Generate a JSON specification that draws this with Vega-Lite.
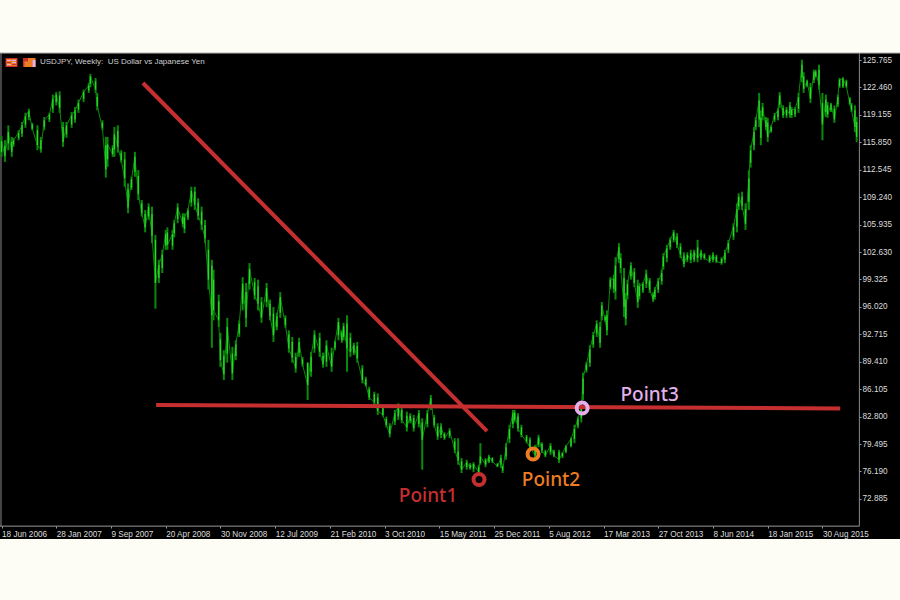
{"$schema":"https://vega.github.io/schema/vega-lite/v6.json","width":900,"height":600,"padding":0,"autosize":{"type":"none"},"background":"#fdfdf6","view":{"stroke":null,"fill":"#fdfdf6"},
"config":{"axis":{"grid":false,"title":null}},
"datasets":{"candles":[
{"w":0,"h":116.6,"l":114.1,"o":114.7,"c":116.0},{"w":2,"h":116.1,"l":113.5,"o":115.4,"c":114.2},{"w":4,"h":117.9,"l":114.9,"o":115.7,"c":117.1},{"w":6,"h":116.5,"l":114.1,"o":115.9,"c":114.7},{"w":7,"h":116.4,"l":115.3,"o":115.6,"c":116.1},{"w":10,"h":117.3,"l":116.1,"o":116.4,"c":117.0},{"w":12,"h":118.3,"l":116.5,"o":116.9,"c":117.9},{"w":14,"h":119.4,"l":117.6,"o":118.0,"c":119.0},{"w":16,"h":119.9,"l":118.5,"o":118.9,"c":119.6},{"w":18,"h":118.2,"l":117.3,"o":118.0,"c":117.5},{"w":21,"h":117.9,"l":114.9,"o":117.3,"c":115.5},{"w":23,"h":116.5,"l":114.6,"o":116.1,"c":115.0},{"w":25,"h":118.9,"l":117.3,"o":117.7,"c":118.5},{"w":28,"h":119.4,"l":118.3,"o":118.6,"c":119.2},{"w":30,"h":121.6,"l":119.4,"o":119.9,"c":121.1},{"w":32,"h":121.9,"l":120.3,"o":120.7,"c":121.6},{"w":34,"h":122.0,"l":119.4,"o":121.5,"c":120.0},{"w":36,"h":118.3,"l":115.3,"o":117.7,"c":115.9},{"w":38,"h":118.3,"l":116.4,"o":116.8,"c":117.9},{"w":41,"h":119.5,"l":117.6,"o":118.0,"c":119.1},{"w":43,"h":120.1,"l":118.2,"o":118.6,"c":119.7},{"w":45,"h":121.0,"l":119.4,"o":119.8,"c":120.6},{"w":48,"h":122.2,"l":120.7,"o":121.1,"c":121.9},{"w":51,"h":123.0,"l":121.8,"o":122.1,"c":122.7},{"w":52,"h":124.1,"l":122.5,"o":122.9,"c":123.8},{"w":55,"h":123.6,"l":121.8,"o":123.2,"c":122.2},{"w":56,"h":121.8,"l":119.7,"o":121.3,"c":120.2},{"w":59,"h":118.5,"l":117.3,"o":118.2,"c":117.6},{"w":61,"h":116.5,"l":111.6,"o":115.5,"c":112.6},{"w":62,"h":116.5,"l":112.9,"o":113.8,"c":115.6},{"w":65,"h":115.5,"l":114.1,"o":115.2,"c":114.4},{"w":66,"h":117.7,"l":114.1,"o":115.0,"c":116.8},{"w":68,"h":117.9,"l":114.6,"o":117.2,"c":115.3},{"w":70,"h":114.9,"l":113.4,"o":114.6,"c":113.7},{"w":72,"h":114.7,"l":110.5,"o":113.8,"c":111.5},{"w":74,"h":110.9,"l":107.3,"o":110.2,"c":108.0},{"w":76,"h":111.7,"l":110.1,"o":110.4,"c":111.4},{"w":78,"h":114.7,"l":111.7,"o":112.3,"c":114.1},{"w":80,"h":112.5,"l":108.9,"o":111.8,"c":109.6},{"w":82,"h":108.9,"l":106.9,"o":108.5,"c":107.3},{"w":84,"h":107.7,"l":105.0,"o":107.2,"c":105.6},{"w":86,"h":108.5,"l":106.5,"o":106.9,"c":108.1},{"w":88,"h":108.1,"l":103.7,"o":107.2,"c":104.6},{"w":90,"h":104.7,"l":95.8,"o":104.1,"c":98.9},{"w":92,"h":101.7,"l":98.9,"o":99.5,"c":101.1},{"w":94,"h":102.9,"l":100.1,"o":100.7,"c":102.3},{"w":96,"h":105.3,"l":102.9,"o":103.4,"c":104.8},{"w":97,"h":105.6,"l":102.9,"o":105.0,"c":103.5},{"w":100,"h":105.3,"l":102.9,"o":103.4,"c":104.8},{"w":101,"h":106.5,"l":104.4,"o":104.9,"c":106.1},{"w":103,"h":108.5,"l":106.1,"o":106.6,"c":108.0},{"w":106,"h":107.3,"l":105.6,"o":106.9,"c":106.0},{"w":107,"h":107.3,"l":104.9,"o":105.4,"c":106.8},{"w":109,"h":107.9,"l":106.5,"o":106.8,"c":107.6},{"w":111,"h":110.5,"l":108.1,"o":108.6,"c":110.0},{"w":113,"h":110.5,"l":107.7,"o":109.9,"c":108.3},{"w":115,"h":109.1,"l":106.5,"o":108.6,"c":107.0},{"w":117,"h":108.1,"l":105.3,"o":107.5,"c":105.9},{"w":119,"h":106.5,"l":103.7,"o":105.9,"c":104.3},{"w":121,"h":104.1,"l":98.1,"o":102.9,"c":99.3},{"w":123,"h":101.7,"l":91.1,"o":101.0,"c":95.0},{"w":124,"h":100.5,"l":94.4,"o":99.3,"c":95.6},{"w":127,"h":97.5,"l":93.6,"o":96.7,"c":94.4},{"w":128,"h":92.9,"l":88.8,"o":92.1,"c":89.6},{"w":130,"h":90.8,"l":87.2,"o":90.1,"c":87.9},{"w":132,"h":94.7,"l":89.3,"o":90.4,"c":93.6},{"w":135,"h":91.2,"l":87.2,"o":90.4,"c":88.0},{"w":137,"h":92.0,"l":89.6,"o":90.1,"c":91.5},{"w":139,"h":94.4,"l":92.4,"o":92.8,"c":94.0},{"w":141,"h":99.6,"l":95.6,"o":96.4,"c":98.8},{"w":143,"h":98.9,"l":93.6,"o":97.8,"c":94.7},{"w":145,"h":101.3,"l":98.1,"o":98.8,"c":100.6},{"w":148,"h":99.5,"l":96.9,"o":99.0,"c":97.4},{"w":150,"h":99.3,"l":95.6,"o":98.5,"c":96.4},{"w":152,"h":97.2,"l":94.1,"o":96.6,"c":94.7},{"w":155,"h":98.9,"l":96.0,"o":96.6,"c":98.3},{"w":157,"h":96.9,"l":94.4,"o":96.4,"c":94.9},{"w":159,"h":96.0,"l":91.8,"o":95.2,"c":92.6},{"w":161,"h":95.3,"l":93.2,"o":93.6,"c":94.9},{"w":163,"h":97.8,"l":94.7,"o":95.3,"c":97.2},{"w":166,"h":95.0,"l":93.5,"o":94.7,"c":93.8},{"w":168,"h":93.2,"l":90.5,"o":92.7,"c":91.0},{"w":170,"h":92.4,"l":89.3,"o":91.8,"c":89.9},{"w":172,"h":90.5,"l":88.1,"o":90.0,"c":88.6},{"w":174,"h":92.3,"l":90.0,"o":90.5,"c":91.8},{"w":176,"h":90.0,"l":88.8,"o":89.7,"c":89.1},{"w":179,"h":89.3,"l":84.8,"o":89.3,"c":86.6},{"w":181,"h":90.6,"l":87.6,"o":88.2,"c":90.0},{"w":183,"h":93.2,"l":90.5,"o":91.0,"c":92.7},{"w":186,"h":92.9,"l":90.0,"o":92.3,"c":90.6},{"w":188,"h":90.5,"l":88.7,"o":90.1,"c":89.1},{"w":190,"h":92.0,"l":88.8,"o":89.4,"c":91.4},{"w":193,"h":91.1,"l":88.2,"o":90.5,"c":88.8},{"w":195,"h":92.0,"l":90.8,"o":91.1,"c":91.8},{"w":197,"h":94.7,"l":92.0,"o":92.6,"c":94.2},{"w":199,"h":93.2,"l":91.7,"o":92.9,"c":92.0},{"w":200,"h":94.1,"l":92.0,"o":92.4,"c":93.7},{"w":202,"h":95.0,"l":88.2,"o":94.0,"c":91.0},{"w":204,"h":92.9,"l":90.0,"o":92.3,"c":90.6},{"w":206,"h":91.7,"l":90.2,"o":90.5,"c":91.4},{"w":208,"h":91.8,"l":89.3,"o":91.3,"c":89.8},{"w":211,"h":89.0,"l":86.8,"o":88.6,"c":87.2},{"w":213,"h":87.6,"l":86.4,"o":87.3,"c":86.6},{"w":215,"h":86.4,"l":84.8,"o":86.1,"c":85.1},{"w":218,"h":85.8,"l":84.2,"o":85.5,"c":84.5},{"w":220,"h":85.6,"l":83.0,"o":85.1,"c":83.5},{"w":223,"h":84.0,"l":82.8,"o":83.8,"c":83.0},{"w":225,"h":82.8,"l":81.5,"o":82.5,"c":81.8},{"w":227,"h":82.0,"l":80.3,"o":81.7,"c":80.7},{"w":230,"h":83.6,"l":81.8,"o":82.2,"c":83.2},{"w":232,"h":84.4,"l":82.4,"o":82.8,"c":84.0},{"w":234,"h":84.0,"l":82.0,"o":83.6,"c":82.4},{"w":237,"h":83.4,"l":81.0,"o":82.9,"c":81.5},{"w":239,"h":83.2,"l":82.0,"o":82.3,"c":82.9},{"w":241,"h":83.0,"l":81.0,"o":82.6,"c":81.4},{"w":244,"h":83.6,"l":81.5,"o":81.9,"c":83.2},{"w":246,"h":82.6,"l":76.4,"o":82.1,"c":80.0},{"w":249,"h":83.6,"l":81.5,"o":81.9,"c":83.2},{"w":251,"h":85.4,"l":83.6,"o":84.0,"c":85.0},{"w":253,"h":83.0,"l":81.5,"o":82.7,"c":81.8},{"w":255,"h":82.0,"l":80.0,"o":81.6,"c":80.4},{"w":257,"h":82.0,"l":80.2,"o":80.6,"c":81.6},{"w":259,"h":80.9,"l":80.0,"o":80.7,"c":80.2},{"w":262,"h":81.4,"l":80.2,"o":80.5,"c":81.1},{"w":265,"h":80.2,"l":78.4,"o":79.8,"c":78.8},{"w":267,"h":80.2,"l":77.0,"o":78.6,"c":77.5},{"w":269,"h":77.8,"l":76.0,"o":77.4,"c":76.4},{"w":272,"h":77.6,"l":76.4,"o":76.7,"c":77.3},{"w":274,"h":77.2,"l":76.4,"o":77.0,"c":76.6},{"w":276,"h":77.3,"l":76.1,"o":76.5,"c":77.1},{"w":279,"h":77.0,"l":75.8,"o":76.7,"c":76.1},{"w":280,"h":79.6,"l":77.0,"o":77.2,"c":78.0},{"w":283,"h":77.8,"l":76.7,"o":77.6,"c":77.0},{"w":285,"h":78.2,"l":77.2,"o":77.4,"c":78.0},{"w":287,"h":77.9,"l":77.2,"o":77.8,"c":77.4},{"w":290,"h":77.2,"l":76.7,"o":77.1,"c":76.8},{"w":292,"h":78.2,"l":76.6,"o":77.0,"c":77.8},{"w":293,"h":77.0,"l":76.0,"o":76.8,"c":76.3},{"w":295,"h":79.6,"l":77.6,"o":78.0,"c":79.1},{"w":297,"h":81.8,"l":79.6,"o":80.1,"c":81.3},{"w":299,"h":83.6,"l":81.4,"o":81.9,"c":83.2},{"w":300,"h":83.6,"l":82.1,"o":82.4,"c":83.3},{"w":302,"h":83.2,"l":81.0,"o":82.8,"c":81.4},{"w":304,"h":81.8,"l":80.3,"o":81.5,"c":80.6},{"w":307,"h":80.6,"l":79.6,"o":80.4,"c":79.8},{"w":309,"h":80.3,"l":78.8,"o":80.0,"c":79.1},{"w":312,"h":79.4,"l":77.8,"o":79.1,"c":78.1},{"w":314,"h":80.6,"l":79.1,"o":79.4,"c":80.3},{"w":316,"h":79.7,"l":78.4,"o":79.5,"c":78.7},{"w":318,"h":78.8,"l":77.9,"o":78.6,"c":78.1},{"w":321,"h":79.6,"l":78.2,"o":78.5,"c":79.3},{"w":323,"h":78.8,"l":77.9,"o":78.6,"c":78.1},{"w":326,"h":78.8,"l":77.2,"o":78.5,"c":77.6},{"w":328,"h":78.5,"l":77.8,"o":78.0,"c":78.4},{"w":330,"h":79.4,"l":78.4,"o":78.6,"c":79.2},{"w":333,"h":80.3,"l":79.1,"o":79.3,"c":80.1},{"w":335,"h":81.8,"l":79.6,"o":80.1,"c":81.3},{"w":337,"h":82.8,"l":81.4,"o":81.7,"c":82.5},{"w":339,"h":84.2,"l":82.1,"o":82.6,"c":83.8},{"w":340,"h":88.1,"l":84.8,"o":85.5,"c":87.4},{"w":342,"h":89.4,"l":88.1,"o":88.4,"c":89.1},{"w":344,"h":91.4,"l":88.8,"o":89.3,"c":90.9},{"w":346,"h":93.0,"l":91.1,"o":91.5,"c":92.6},{"w":348,"h":94.4,"l":92.4,"o":92.8,"c":94.0},{"w":350,"h":94.2,"l":91.1,"o":93.6,"c":91.7},{"w":351,"h":96.6,"l":94.4,"o":94.9,"c":96.2},{"w":353,"h":95.0,"l":94.2,"o":94.8,"c":94.4},{"w":354,"h":95.6,"l":92.6,"o":95.0,"c":93.2},{"w":356,"h":99.6,"l":98.1,"o":98.4,"c":99.3},{"w":358,"h":99.9,"l":97.7,"o":98.2,"c":99.4},{"w":359,"h":102.0,"l":96.9,"o":97.9,"c":101.0},{"w":361,"h":103.7,"l":101.3,"o":101.8,"c":103.2},{"w":362,"h":102.5,"l":100.1,"o":101.9,"c":100.7},{"w":364,"h":100.7,"l":94.8,"o":99.5,"c":96.0},{"w":365,"h":97.7,"l":93.8,"o":96.9,"c":94.6},{"w":366,"h":99.3,"l":96.9,"o":97.4,"c":98.8},{"w":368,"h":101.4,"l":99.3,"o":99.7,"c":101.0},{"w":370,"h":100.7,"l":98.4,"o":100.2,"c":98.9},{"w":372,"h":99.3,"l":95.9,"o":98.6,"c":96.6},{"w":373,"h":98.9,"l":96.9,"o":97.3,"c":98.5},{"w":375,"h":99.0,"l":97.7,"o":98.0,"c":98.8},{"w":377,"h":100.5,"l":98.3,"o":98.8,"c":100.0},{"w":379,"h":99.5,"l":97.7,"o":99.2,"c":98.1},{"w":381,"h":97.8,"l":96.6,"o":97.5,"c":96.9},{"w":382,"h":98.4,"l":96.9,"o":97.2,"c":98.1},{"w":384,"h":99.5,"l":97.7,"o":98.1,"c":99.1},{"w":386,"h":100.5,"l":98.7,"o":99.1,"c":100.1},{"w":387,"h":102.5,"l":100.5,"o":100.9,"c":102.1},{"w":389,"h":103.5,"l":101.4,"o":101.9,"c":103.1},{"w":391,"h":104.4,"l":102.9,"o":103.2,"c":104.1},{"w":393,"h":105.3,"l":103.8,"o":104.1,"c":105.0},{"w":395,"h":104.9,"l":103.1,"o":104.5,"c":103.5},{"w":397,"h":103.7,"l":101.9,"o":103.3,"c":102.3},{"w":399,"h":102.6,"l":100.8,"o":102.2,"c":101.2},{"w":401,"h":102.6,"l":101.4,"o":101.7,"c":102.3},{"w":403,"h":102.9,"l":101.3,"o":102.5,"c":101.7},{"w":405,"h":102.9,"l":101.4,"o":101.7,"c":102.6},{"w":407,"h":104.1,"l":101.4,"o":103.2,"c":101.9},{"w":409,"h":102.9,"l":101.7,"o":102.0,"c":102.6},{"w":411,"h":102.5,"l":101.7,"o":102.3,"c":101.9},{"w":414,"h":102.3,"l":101.3,"o":102.1,"c":101.5},{"w":416,"h":102.6,"l":101.4,"o":101.7,"c":102.3},{"w":418,"h":102.3,"l":101.3,"o":102.1,"c":101.5},{"w":421,"h":102.0,"l":101.1,"o":101.8,"c":101.3},{"w":423,"h":102.9,"l":101.3,"o":101.7,"c":102.5},{"w":425,"h":104.1,"l":102.5,"o":102.9,"c":103.7},{"w":428,"h":106.1,"l":104.1,"o":104.5,"c":105.7},{"w":430,"h":108.5,"l":105.0,"o":105.7,"c":107.8},{"w":431,"h":109.7,"l":107.7,"o":108.1,"c":109.3},{"w":433,"h":109.9,"l":107.7,"o":109.3,"c":108.2},{"w":435,"h":108.5,"l":105.3,"o":107.8,"c":106.0},{"w":437,"h":112.5,"l":107.7,"o":108.7,"c":111.5},{"w":438,"h":115.5,"l":112.8,"o":113.4,"c":114.9},{"w":440,"h":117.7,"l":114.9,"o":115.5,"c":117.1},{"w":441,"h":118.9,"l":117.3,"o":117.7,"c":118.5},{"w":443,"h":121.8,"l":117.7,"o":118.6,"c":120.9},{"w":444,"h":119.7,"l":115.5,"o":118.8,"c":116.4},{"w":445,"h":120.6,"l":118.5,"o":119.0,"c":120.1},{"w":447,"h":118.9,"l":117.3,"o":118.5,"c":117.7},{"w":448,"h":118.8,"l":115.9,"o":118.2,"c":116.5},{"w":450,"h":117.9,"l":117.0,"o":117.2,"c":117.7},{"w":452,"h":119.4,"l":118.3,"o":118.6,"c":119.1},{"w":454,"h":120.0,"l":118.5,"o":118.9,"c":119.7},{"w":455,"h":121.9,"l":120.0,"o":120.4,"c":121.5},{"w":457,"h":120.3,"l":118.8,"o":120.0,"c":119.1},{"w":459,"h":120.1,"l":118.8,"o":119.1,"c":119.8},{"w":461,"h":120.7,"l":118.8,"o":120.3,"c":119.2},{"w":462,"h":120.1,"l":118.8,"o":119.1,"c":119.8},{"w":464,"h":120.1,"l":118.9,"o":119.2,"c":119.8},{"w":466,"h":121.8,"l":119.4,"o":119.9,"c":121.3},{"w":468,"h":125.8,"l":123.1,"o":123.7,"c":125.2},{"w":469,"h":124.3,"l":121.8,"o":123.8,"c":122.3},{"w":471,"h":123.4,"l":122.5,"o":122.7,"c":123.2},{"w":473,"h":123.0,"l":120.6,"o":122.5,"c":121.1},{"w":475,"h":124.6,"l":123.0,"o":123.4,"c":124.3},{"w":476,"h":124.6,"l":123.6,"o":123.8,"c":124.4},{"w":478,"h":125.2,"l":122.2,"o":124.6,"c":122.8},{"w":480,"h":121.8,"l":116.1,"o":120.6,"c":118.0},{"w":482,"h":121.6,"l":118.9,"o":119.5,"c":121.0},{"w":483,"h":120.7,"l":118.8,"o":120.3,"c":119.2},{"w":485,"h":120.6,"l":119.5,"o":119.7,"c":120.4},{"w":487,"h":120.3,"l":118.2,"o":119.9,"c":118.6},{"w":489,"h":121.6,"l":120.1,"o":120.4,"c":121.3},{"w":490,"h":123.6,"l":122.4,"o":122.6,"c":123.4},{"w":492,"h":123.7,"l":122.4,"o":122.6,"c":123.5},{"w":494,"h":123.4,"l":122.4,"o":123.2,"c":122.6},{"w":496,"h":121.3,"l":120.3,"o":121.1,"c":120.5},{"w":497,"h":120.6,"l":119.5,"o":120.4,"c":119.7},{"w":499,"h":120.3,"l":117.1,"o":119.7,"c":117.7},{"w":500,"h":118.9,"l":115.9,"o":118.3,"c":116.5}
]},
"layer":[
{"data":{"values":[{"w":-0.88,"w2":525.35,"top":126.6,"bottom":68.05}]},"mark":{"type":"rect","fill":"#000000"},
"encoding":{"x":{"field":"w","type":"quantitative","scale":{"domain":[-0.88,525.35],"nice":false,"zero":false},
"axis":{"orient":"bottom","offset":-74,"zindex":1,"domain":false,"tickCount":30,"values":[0,32,64,96,128,160,192,224,256,288,320,352,384,416,448,480],"labelExpr":"['18 Jun 2006','28 Jan 2007','9 Sep 2007','20 Apr 2008','30 Nov 2008','12 Jul 2009','21 Feb 2010','3 Oct 2010','15 May 2011','25 Dec 2011','5 Aug 2012','17 Mar 2013','27 Oct 2013','8 Jun 2014','18 Jan 2015','30 Aug 2015'][datum.value/32]","labelAlign":"left","labelBaseline":"top","labelColor":"#dcdcdc","labelFont":"Liberation Sans","labelFontSize":8.2,"labelPadding":2,"labelOverlap":false,"labelFlush":false,"labelBound":false,"tickColor":"#9a9a9a","tickSize":2,"title":null,"grid":false}},
"x2":{"field":"w2"},
"y":{"field":"top","type":"quantitative","scale":{"domain":[60.7,133],"nice":false,"zero":false},
"axis":{"orient":"right","offset":-41,"zindex":1,"domain":false,"tickCount":30,"values":[125.765,122.46,119.155,115.85,112.545,109.24,105.935,102.63,99.325,96.02,92.715,89.41,86.105,82.8,79.495,76.19,72.885],"format":".3f","labelAlign":"left","labelBaseline":"middle","labelColor":"#dcdcdc","labelFont":"Liberation Sans","labelFontSize":8.2,"labelPadding":1,"labelOverlap":false,"labelBound":false,"labelFlush":false,"tickColor":"#9a9a9a","tickSize":2,"title":null,"grid":false}},
"y2":{"field":"bottom"}}},
{"data":{"values":[{"w":-0.88,"w2":525.35,"p":126.6},{"w":-0.88,"w2":501.6,"p":69.6}]},"mark":{"type":"rule","stroke":"#9a9a9a","strokeWidth":1},
"encoding":{"x":{"field":"w","type":"quantitative"},"x2":{"field":"w2"},"y":{"field":"p","type":"quantitative"}}},
{"data":{"values":[{"w":501.6,"p":126.6,"p2":69.6},{"w":-0.3,"p":126.6,"p2":69.6}]},"mark":{"type":"rule","stroke":"#8a8a8a","strokeWidth":1},
"encoding":{"x":{"field":"w","type":"quantitative"},"y":{"field":"p","type":"quantitative"},"y2":{"field":"p2"}}},
{"data":{"name":"candles"},"mark":{"type":"line","stroke":"#0a8a0a","strokeWidth":1},
"encoding":{"x":{"field":"w","type":"quantitative"},"y":{"field":"c","type":"quantitative"}}},
{"data":{"name":"candles"},"mark":{"type":"rule","stroke":"#0a8a0a","strokeWidth":2},
"encoding":{"x":{"field":"w","type":"quantitative"},"y":{"field":"h","type":"quantitative"},"y2":{"field":"l"}}},
{"data":{"name":"candles"},"mark":{"type":"rule","stroke":"#2ad82a","strokeWidth":1.3},
"encoding":{"x":{"field":"w","type":"quantitative"},"y":{"field":"o","type":"quantitative"},"y2":{"field":"c"}}},
{"data":{"values":[{"line":"a","w":82.7,"p":123.0},{"line":"a","w":283.9,"p":81.06},{"line":"b","w":90.4,"p":84.2},{"line":"b","w":490.4,"p":83.78}]},"mark":{"type":"line","stroke":"#c62f2f","strokeWidth":4,"strokeCap":"butt"},
"encoding":{"detail":{"field":"line"},"x":{"field":"w","type":"quantitative"},"y":{"field":"p","type":"quantitative"}}},
{"data":{"values":[{"name":"Point1","w":279.2,"p":75.22},{"name":"Point2","w":310.8,"p":78.3},{"name":"Point3","w":339.5,"p":83.84}]},"mark":{"type":"point","shape":"circle","filled":false,"size":121,"strokeWidth":4,"opacity":1},
"encoding":{"x":{"field":"w","type":"quantitative"},"y":{"field":"p","type":"quantitative"},
"color":{"field":"name","type":"nominal","legend":null,"scale":{"domain":["Point1","Point2","Point3"],"range":["#c62f2f","#ee7d22","#e3b0ec"]}}}},
{"data":{"values":[{"name":"Point1","w":249.4,"p":72.5},{"name":"Point2","w":321.3,"p":74.44},{"name":"Point3","w":379,"p":84.62}]},"mark":{"type":"text","font":"Noto Sans","fontSize":19,"fontWeight":500,"align":"center","baseline":"alphabetic"},
"encoding":{"text":{"field":"name"},"x":{"field":"w","type":"quantitative"},"y":{"field":"p","type":"quantitative"},
"color":{"field":"name","type":"nominal","legend":null,"scale":{"domain":["Point1","Point2","Point3"],"range":["#c62f2f","#ee7d22","#e3b0ec"]}}}},
{"data":{"values":[{"label":"USDJPY, Weekly:\u00a0\u00a0US Dollar vs Japanese Yen","w":22.5,"p":125.53}]},"mark":{"type":"text","font":"Liberation Sans","fontSize":8,"align":"left","baseline":"middle","fill":"#cfcfcf"},
"encoding":{"text":{"field":"label"},"x":{"field":"w","type":"quantitative"},"y":{"field":"p","type":"quantitative"}}},
{"data":{"values":[
{"part":"frame","w":2.34,"w2":9.35,"p":126.01,"p2":124.93},{"part":"page","w":2.92,"w2":8.77,"p":125.89,"p2":125.05},{"part":"stripe","w":3.2,"w2":5.6,"p":125.77,"p2":125.65},{"part":"stripe","w":6.1,"w2":8.5,"p":125.77,"p2":125.65},{"part":"mark","w":3.2,"w2":5.6,"p":125.53,"p2":125.41},{"part":"stripe","w":6.1,"w2":8.5,"p":125.53,"p2":125.41},{"part":"stripe","w":3.2,"w2":5.6,"p":125.29,"p2":125.17},{"part":"mark","w":6.1,"w2":8.5,"p":125.29,"p2":125.17},
{"part":"page","w":12.57,"w2":19.88,"p":126.01,"p2":124.93},{"part":"frame","w":12.57,"w2":15.5,"p":126.01,"p2":125.6},{"part":"frame","w":12.57,"w2":13.4,"p":125.6,"p2":124.93},{"part":"dark","w":15.5,"w2":17.6,"p":126.01,"p2":125.65},{"part":"stripe","w":18.2,"w2":19.88,"p":125.77,"p2":124.93}
]},"mark":{"type":"rect"},
"encoding":{"x":{"field":"w","type":"quantitative"},"x2":{"field":"w2"},"y":{"field":"p","type":"quantitative"},"y2":{"field":"p2"},
"color":{"field":"part","type":"nominal","legend":null,"scale":{"domain":["frame","page","stripe","mark","dark"],"range":["#d9502e","#f4f4f4","#3a6fc4","#e08a5a","#222a44"]}}}}
]}
